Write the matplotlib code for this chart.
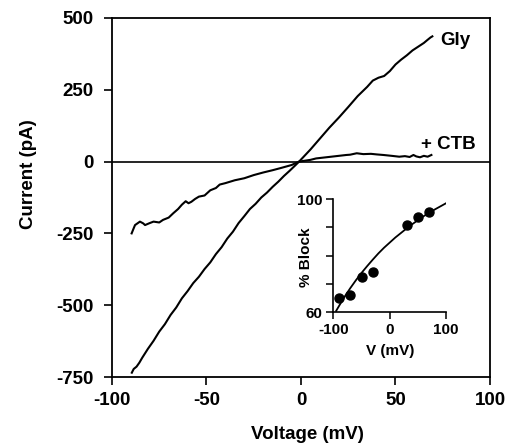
import matplotlib
matplotlib.use("Agg")
import matplotlib.pyplot as plt

plt.rcParams['font.family'] = ['Liberation Sans', 'DejaVu Sans']
plt.rcParams['axes.unicode_minus'] = False
plt.rcParams['font.weight'] = 'bold'

# Main I-V traces
V_gly = [-89.5, -88.5, -87, -85.5, -84, -81, -78, -75, -72, -69, -66, -63, -60, -57, -54,
         -51, -48, -45, -42, -39, -36, -33, -30, -27, -24, -21, -18, -15, -12, -9, -6, -3,
         -1, 0, 5, 10, 15, 20, 25, 30, 35, 38, 41, 44, 47, 50, 53, 56, 59, 62, 65, 67, 68.5,
         69.5]
I_gly = [-735, -722, -714, -700, -683, -652, -624, -592, -566, -534, -508, -476, -451, -423,
         -401, -374, -351, -322, -298, -268, -244, -214, -190, -165, -147, -125, -108, -88,
         -70, -50, -32, -13, 0, 7, 42, 80, 118, 153, 190, 228, 260, 282, 292, 298, 315, 338,
         355, 370, 387, 400, 413, 424, 432, 436]

V_ctb = [-89.6, -88.5, -87.8, -86.5, -85.2, -83.5, -82.5, -80, -78, -75, -73, -70, -67.6,
         -65, -63, -61, -59.5, -58, -56, -54, -51, -48, -45, -43, -40, -35, -30, -25, -20,
         -15, -11, -5, -1, 5, 8, 12, 16, 20, 24, 26, 29.5, 33, 37, 40, 43.6, 48, 52, 55, 57.5,
         59.5, 61, 63, 65, 67, 69]
I_ctb = [-250, -232, -221, -215, -209, -215, -221, -214, -209, -212, -203, -195, -180, -165,
         -150, -138, -145, -140, -130, -122, -118, -100, -92, -80, -75, -65, -58, -47, -38,
         -30, -23, -12, 0, 6, 11, 14, 17, 20, 23, 24, 29, 26, 27, 25, 23, 20, 17, 19, 16,
         23, 18, 15, 20, 17, 23]

main_xticks = [-100, -50, 0, 50, 100]
main_yticks = [-750, -500, -250, 0, 250, 500]

# Inset: % block vs voltage
V_pts = [-90, -70, -50, -30, 30, 50, 70]
B_pts = [64.9, 66.1, 72.6, 74.4, 90.8, 93.5, 95.3]
V_fit = [-95, -90, -80, -70, -60, -50, -40, -30, -20, -10, 0, 10, 20, 30, 40, 50, 60, 70,
         80, 90, 100]
B_fit = [60.5, 62.2, 65.5, 68.5, 71.3, 73.9, 76.3, 78.6, 80.8, 82.8, 84.6, 86.4, 88.0, 89.6,
         91.1, 92.5, 93.9, 95.1, 96.3, 97.4, 98.5]
inset_xticks = [-100, 0, 100]
inset_yticks = [60, 70, 80, 90, 100]
inset_yticklabels = ['60', '', '', '', '100']

fig = plt.figure(figsize=(5.16, 4.46), dpi=100)
ax = fig.add_axes([0.217, 0.1547, 0.7326, 0.805])
ax.plot(V_gly, I_gly, color='black', lw=1.5)
ax.plot(V_ctb, I_ctb, color='black', lw=1.5)
ax.axhline(0, color='black', lw=1.2)
ax.set_xlim(-100, 100)
ax.set_ylim(-750, 500)
ax.set_xticks(main_xticks)
ax.set_yticks(main_yticks)
ax.tick_params(direction='out', length=6, width=1.2, labelsize=13.5)
ax.tick_params(axis='y', pad=7)
ax.tick_params(axis='x', pad=5)
for s in ax.spines.values():
    s.set_linewidth(1.3)
ax.set_xlabel('Voltage (mV)', fontsize=13.5, fontweight='bold')
ax.set_ylabel('Current (pA)', fontsize=13.5, fontweight='bold')
ax.xaxis.set_label_coords(0.517, -0.137)
ax.yaxis.set_label_coords(-0.198, 0.565)
ax.text(73.5, 420, 'Gly', fontsize=13.5, va='center', ha='left')
ax.text(63.5, 58, '+ CTB', fontsize=13.5, va='center', ha='left')

ins = fig.add_axes([0.646, 0.2998, 0.2184, 0.254])
ins.plot(V_fit, B_fit, color='black', lw=1.3)
ins.plot(V_pts, B_pts, 'o', color='black', ms=6.5)
ins.set_xlim(-100, 100)
ins.set_ylim(60, 100)
ins.set_xticks(inset_xticks)
ins.set_yticks(inset_yticks)
ins.set_yticklabels(inset_yticklabels)
ins.spines['top'].set_visible(False)
ins.spines['right'].set_visible(False)
for s in ['left', 'bottom']:
    ins.spines[s].set_linewidth(1.2)
ins.tick_params(direction='out', length=5, width=1.1, labelsize=11, pad=3)
ins.set_xlabel('V (mV)', fontsize=11, fontweight='bold')
ins.set_ylabel('% Block', fontsize=11, fontweight='bold')
ins.xaxis.set_label_coords(0.503, -0.28)
ins.yaxis.set_label_coords(-0.18, 0.488)

fig.savefig('out.png', dpi=100)
